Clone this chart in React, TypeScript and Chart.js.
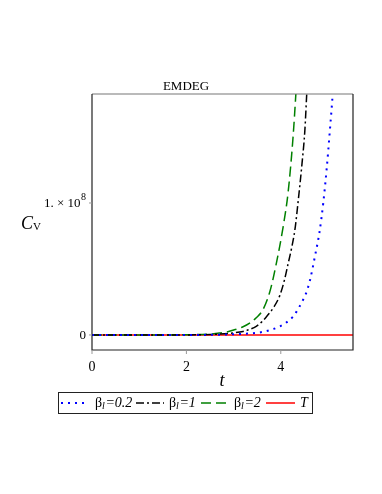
import React, { useEffect, useRef } from "react";
import { Chart, registerables } from "chart.js";

Chart.register(...registerables);

// ---- data (C_V in units of 1e8) ----
const tBlue = [0, 1, 2, 2.5, 3, 3.3, 3.55, 3.8, 3.98, 4.1, 4.26, 4.33, 4.47, 4.55, 4.62, 4.72, 4.82, 4.9, 4.97, 5.04, 5.1, 5.16];
const cvBlue = [0, 0.00001, 0.0002, 0.001, 0.005, 0.011, 0.019, 0.04, 0.065, 0.09, 0.139, 0.175, 0.265, 0.33, 0.417, 0.59, 0.78, 1.0, 1.25, 1.55, 1.83, 2.2];

const tBlack = [0, 1, 1.5, 2, 2.5, 2.8, 2.98, 3.2, 3.34, 3.48, 3.6, 3.7, 3.85, 3.98, 4.08, 4.155, 4.23, 4.3, 4.37, 4.45, 4.51, 4.55, 4.62];
const cvBlack = [0, 0.00003, 0.0001, 0.0005, 0.003, 0.009, 0.015, 0.027, 0.042, 0.065, 0.1, 0.14, 0.21, 0.3, 0.42, 0.54, 0.66, 0.8, 1.02, 1.3, 1.55, 1.83, 2.3];

const tGreen = [0, 1, 1.5, 2, 2.3, 2.5, 2.7, 2.85, 2.98, 3.1, 3.19, 3.34, 3.48, 3.62, 3.77, 3.91, 4.05, 4.155, 4.26, 4.32, 4.4];
const cvGreen = [0, 0.0001, 0.0004, 0.0015, 0.004, 0.007, 0.014, 0.022, 0.035, 0.048, 0.06, 0.089, 0.13, 0.19, 0.33, 0.55, 0.82, 1.08, 1.5, 1.83, 2.3];

const tRed = [0, 5.6];
const cvRed = [0, 0];

const xTickValues = [0, 2, 4];
const xTickLabels = ["0", "2", "4"];
const yTickValues = [0, 1];
const yTickMantissa = ["0", "1. × 10"];
const yTickExponent = ["", "8"];

const legendValues = ["0.2", "1", "2"];
const titleText = "EMDEG";

const X_MIN = 0;
const X_MAX = 5.53;
const Y_MIN = -0.114;
const Y_MAX = 1.826;

const SERIF = "'Liberation Serif', 'Times New Roman', serif";

function pts(xs: number[], ys: number[]) {
  return xs.map((x, i) => ({ x, y: ys[i] }));
}

const decorPlugin = {
  id: "decor",
  afterDraw(chart: any) {
    const ctx: CanvasRenderingContext2D = chart.ctx;
    const a = chart.chartArea;
    const xs = chart.scales.x;
    const ys = chart.scales.y;
    ctx.save();

    // frame
    ctx.lineWidth = 1.2;
    ctx.strokeStyle = "#777";
    ctx.beginPath();
    ctx.moveTo(a.left, a.top);
    ctx.lineTo(a.right, a.top);
    ctx.stroke();
    ctx.strokeStyle = "#222";
    ctx.beginPath();
    ctx.moveTo(a.left, a.top);
    ctx.lineTo(a.left, a.bottom);
    ctx.lineTo(a.right, a.bottom);
    ctx.lineTo(a.right, a.top);
    ctx.stroke();

    // x ticks
    ctx.fillStyle = "#000";
    ctx.font = `14px ${SERIF}`;
    ctx.textAlign = "center";
    ctx.textBaseline = "middle";
    xTickValues.forEach((v, i) => {
      const px = xs.getPixelForValue(v);
      ctx.strokeStyle = "#999";
      ctx.lineWidth = 1;
      ctx.beginPath();
      ctx.moveTo(px, a.bottom);
      ctx.lineTo(px, a.bottom + 4);
      ctx.stroke();
      ctx.fillText(xTickLabels[i], px, 367);
    });

    // y ticks
    yTickValues.forEach((v, i) => {
      const py = ys.getPixelForValue(v);
      ctx.strokeStyle = "#999";
      ctx.lineWidth = 1;
      ctx.beginPath();
      ctx.moveTo(a.left - 3, py);
      ctx.lineTo(a.left, py);
      ctx.stroke();
      ctx.textAlign = "right";
      let right = a.left - 6;
      if (yTickExponent[i]) {
        ctx.font = `10px ${SERIF}`;
        const ew = ctx.measureText(yTickExponent[i]).width;
        ctx.fillText(yTickExponent[i], right, py - 6);
        right -= ew + 0.5;
      }
      ctx.font = `13px ${SERIF}`;
      ctx.fillText(yTickMantissa[i], right, py + 1);
    });

    // title
    ctx.textAlign = "center";
    ctx.font = `13px ${SERIF}`;
    ctx.fillText(titleText, 186, 87);

    // axis labels
    ctx.textAlign = "left";
    ctx.font = `italic 18px ${SERIF}`;
    ctx.fillText("C", 21, 224);
    ctx.font = `11px ${SERIF}`;
    ctx.fillText("V", 33, 227);
    ctx.textAlign = "center";
    ctx.font = `italic 18px ${SERIF}`;
    ctx.fillText("t", 222, 381);

    // legend
    const ly = 403;
    ctx.lineWidth = 1;
    ctx.strokeStyle = "#222";
    ctx.strokeRect(58.5, 392.5, 254, 21);

    const samples = [
      { x0: 61, x1: 85, color: "#0000ff", dash: [2, 5], w: 2 },
      { x0: 136, x1: 164, color: "#000000", dash: [8, 3, 2, 3], w: 1.5 },
      { x0: 201, x1: 229, color: "#008000", dash: [10, 5], w: 1.5 },
      { x0: 266, x1: 295, color: "#ff0000", dash: [], w: 1.5 },
    ];
    samples.forEach((s) => {
      ctx.strokeStyle = s.color;
      ctx.lineWidth = s.w;
      ctx.setLineDash(s.dash);
      ctx.beginPath();
      ctx.moveTo(s.x0, ly);
      ctx.lineTo(s.x1, ly);
      ctx.stroke();
    });
    ctx.setLineDash([]);

    ctx.fillStyle = "#000";
    ctx.textAlign = "left";
    const textStarts = [95, 169, 234];
    textStarts.forEach((tx, i) => {
      let x = tx;
      ctx.font = `14px ${SERIF}`;
      ctx.fillText("β", x, ly);
      x += ctx.measureText("β").width;
      ctx.font = `italic 10px ${SERIF}`;
      ctx.fillText("l", x, ly + 3);
      x += ctx.measureText("l").width + 0.5;
      ctx.font = `italic 14px ${SERIF}`;
      ctx.fillText("=" + legendValues[i], x, ly);
    });
    ctx.font = `italic 14px ${SERIF}`;
    ctx.fillText("T", 300, ly);

    ctx.restore();
  },
};

export default function App() {
  const ref = useRef<HTMLCanvasElement | null>(null);

  useEffect(() => {
    document.body.style.margin = "0";
    const canvas = ref.current;
    if (!canvas) return;
    const chart = new Chart(canvas, {
      type: "line",
      data: {
        datasets: [
          {
            label: "βl=0.2",
            data: pts(tBlue, cvBlue),
            borderColor: "#0000ff",
            borderWidth: 2,
            borderDash: [2, 5],
            pointRadius: 0,
            cubicInterpolationMode: "monotone",
          },
          {
            label: "βl=1",
            data: pts(tBlack, cvBlack),
            borderColor: "#000000",
            borderWidth: 1.5,
            borderDash: [8, 3, 2, 3],
            pointRadius: 0,
            cubicInterpolationMode: "monotone",
          },
          {
            label: "βl=2",
            data: pts(tGreen, cvGreen),
            borderColor: "#008000",
            borderWidth: 1.5,
            borderDash: [10, 5],
            pointRadius: 0,
            cubicInterpolationMode: "monotone",
          },
          {
            label: "T",
            data: pts(tRed, cvRed),
            borderColor: "#ff0000",
            borderWidth: 1.5,
            pointRadius: 0,
          },
        ],
      },
      options: {
        responsive: false,
        animation: false,
        layout: { padding: { left: 92, top: 94, right: 29, bottom: 144 } },
        plugins: {
          legend: { display: false },
          title: { display: false },
          tooltip: { enabled: false },
        },
        scales: {
          x: { type: "linear", min: X_MIN, max: X_MAX, display: false },
          y: { type: "linear", min: Y_MIN, max: Y_MAX, display: false },
        },
      },
      plugins: [decorPlugin],
    } as any);
    return () => chart.destroy();
  }, []);

  return (
    <canvas
      ref={ref}
      width={382}
      height={494}
      style={{ display: "block", width: 382, height: 494, background: "#fff" }}
    />
  );
}
